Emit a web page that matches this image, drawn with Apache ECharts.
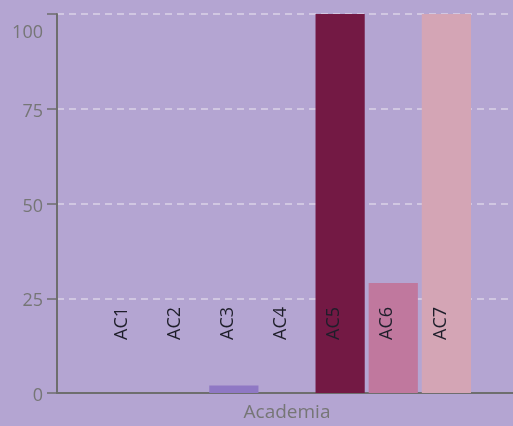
<!DOCTYPE html>
<html>
<head>
<meta charset="utf-8">
<script src="https://cdn.jsdelivr.net/npm/echarts@6/dist/echarts.min.js"></script>
<style>
  html, body { margin: 0; padding: 0; background: #b4a5d2; }
  #chart { width: 513px; height: 426px; }
</style>
</head>
<body>
<div id="chart"></div>
<script>
const categories = ['Academia'];
const seriesNames = ['AC1', 'AC2', 'AC3', 'AC4', 'AC5', 'AC6', 'AC7'];
const seriesValues = [0, 0, 2, 0, 100, 29, 100];
const seriesColors = ['#5e4fa2', '#6f5fb0', '#8f78c4', '#a07cc0', '#731944', '#c0789e', '#d4a5b5'];
const yTicks = [0, 25, 50, 75, 100];

const font = 'Open Sans';

const chart = echarts.init(document.getElementById('chart'));

const series = seriesNames.map((name, i) => ({
  name: name,
  type: 'bar',
  data: [seriesValues[i]],
  barGap: '8%',
  barCategoryGap: '20%',
  itemStyle: {
    color: seriesColors[i]
  },
  label: {
    show: true,
    formatter: name,
    rotate: 90,
    position: 'insideBottom',
    distance: 53,
    align: 'left',
    verticalAlign: 'middle',
    offset: [0, -6],
    fontFamily: font,
    fontSize: 18,
    color: '#1e1e2a'
  }
}));

chart.setOption({
  backgroundColor: '#b4a5d2',
  animation: false,
  grid: {
    left: 57,
    right: -4,
    top: 14,
    bottom: 33,
    containLabel: false,
    outerBoundsMode: 'none'
  },
  xAxis: {
    type: 'category',
    data: categories,
    axisLine: { lineStyle: { color: '#6e6e6e', width: 2 } },
    axisTick: { alignWithLabel: true, length: 7, lineStyle: { color: '#6e6e6e', width: 1.5 } },
    axisLabel: { margin: 10, fontFamily: font, fontSize: 19, color: '#767676' },
    splitLine: { show: false }
  },
  yAxis: {
    type: 'value',
    min: yTicks[0],
    max: yTicks[yTicks.length - 1],
    interval: 25,
    axisLine: { show: true, lineStyle: { color: '#6e6e6e', width: 2 } },
    axisTick: { show: true, length: 10, lineStyle: { color: '#6e6e6e', width: 1.5 } },
    axisLabel: {
      margin: 14,
      fontFamily: font,
      fontSize: 18,
      color: '#767676',
      formatter: v => (v === 100 ? '{top|100}' : '{n|' + v + '}'),
      rich: {
        top: { fontFamily: font, fontSize: 18, color: '#767676', padding: [38, 0, 0, 0] },
        n: { fontFamily: font, fontSize: 18, color: '#767676', padding: [6, 0, 0, 0] }
      }
    },
    splitLine: {
      show: true,
      lineStyle: { color: 'rgba(235,230,240,0.7)', type: [7, 5], width: 1.5 }
    }
  },
  series: series
});
</script>
</body>
</html>
